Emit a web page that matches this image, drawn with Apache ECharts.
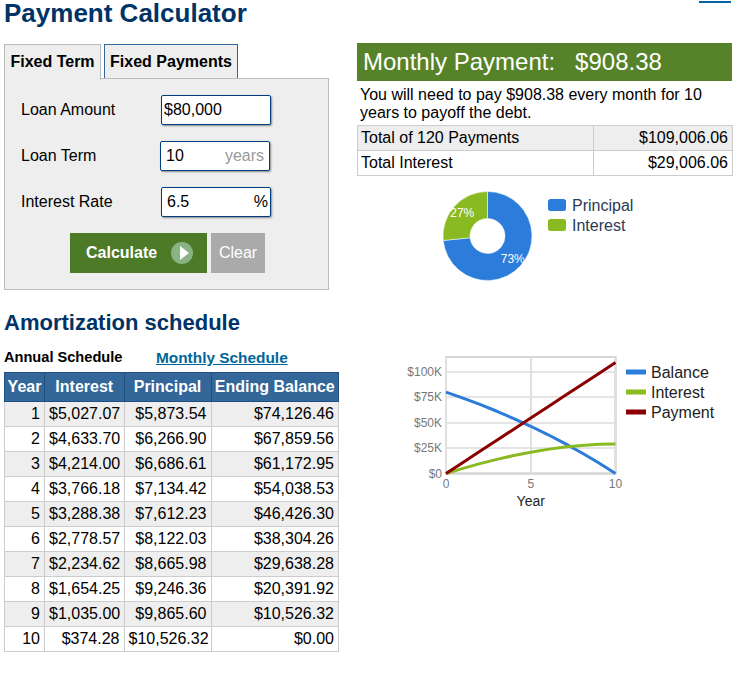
<!DOCTYPE html>
<html lang="en">
<head>
<meta charset="UTF-8">
<title>Payment Calculator</title>
<style>
html, body { margin: 0; padding: 0; background: #fff; }
body { position: relative; width: 739px; height: 678px; overflow: hidden; font-family: "Liberation Sans", Arial, sans-serif; font-size: 16px; color: #000; }
.abs { position: absolute; white-space: nowrap; }
h1, h2 { position: absolute; margin: 0; left: 4px; color: #003366; font-weight: bold; white-space: nowrap; }
.tab { position: absolute; top: 44px; height: 33px; line-height: 34px; text-align: center; font-weight: bold; background: #eee; box-sizing: content-box; }
.inp { position: absolute; width: 108px; height: 28px; background: #fff; border: 1px solid #003f7f; border-radius: 2px; box-shadow: 1px 1px 2px #888; line-height: 28px; box-sizing: content-box; }
.btn { position: absolute; top: 233px; height: 40px; line-height: 40px; font-weight: bold; color: #fff; }
table { position: absolute; border-collapse: collapse; table-layout: fixed; font-size: 16px; }
td, th { border: 1px solid #ccc; padding: 0 4px; text-align: right; box-sizing: border-box; white-space: nowrap; overflow: visible; }
#sched th { background: #336699; color: #fff; border-color: #1f4f80; text-align: center; padding: 0; height: 29px; }
#sched td { height: 25px; }
#sched tr:nth-child(even) td { background: #eee; }
#totals td { height: 25px; }
</style>
</head>
<body>
<div class="abs" style="left:699px;top:1px;width:32px;height:2px;background:#0066a4"></div>

<h1 style="top:-2px;font-size:26px;line-height:30px">Payment Calculator</h1>

<div class="tab" style="left:4px;width:95px;border:1px solid #bbb;border-bottom:none;height:35px;z-index:2">Fixed Term</div>
<div class="tab" style="left:104px;width:132px;border:1px solid #336699;border-bottom:none">Fixed Payments</div>
<div class="abs" style="left:4px;top:78px;width:323px;height:210px;background:#eee;border:1px solid #bbb"></div>

<div class="abs" style="left:21px;top:101px">Loan Amount</div>
<div class="inp" style="left:161px;top:95px"><span style="margin-left:2px">$80,000</span></div>
<div class="abs" style="left:21px;top:147px">Loan Term</div>
<div class="inp" style="left:160px;top:141px"><span style="margin-left:5px">10</span><span style="position:absolute;right:5px;color:#999">years</span></div>
<div class="abs" style="left:21px;top:193px">Interest Rate</div>
<div class="inp" style="left:161px;top:187px"><span style="margin-left:5px">6.5</span><span style="position:absolute;right:2px">%</span></div>

<div class="btn" style="left:70px;width:137px;background:#4c7a26"><span style="margin-left:16px">Calculate</span>
  <svg style="position:absolute;left:101px;top:9px" width="22" height="22"><circle cx="11" cy="11" r="11" fill="#8ab384"/><path d="M9 4 L18 11 L9 18 Z" fill="#fff"/></svg>
</div>
<div class="btn" style="left:211px;width:54px;background:#aaa;text-align:center;font-weight:normal">Clear</div>

<div class="abs" style="left:357px;top:43px;width:375px;height:38px;background:#568329;color:#fff;font-size:24px;line-height:38px"><span style="margin-left:6px;white-space:pre">Monthly Payment:   $908.38</span></div>
<div class="abs" style="left:360px;top:86px;line-height:18px">You will need to pay $908.38 every month for 10<br>years to payoff the debt.</div>
<table id="totals" style="left:357px;top:125px;width:375px"></table>

<div id="pie" class="abs" style="left:430px;top:186px;width:220px;height:100px"></div>

<h2 style="top:310px;font-size:22px;line-height:26px">Amortization schedule</h2>
<div class="abs" style="left:4px;top:349px;font-weight:bold;font-size:14.6px">Annual Schedule</div>
<div class="abs" style="left:156px;top:349px;font-weight:bold;font-size:15.4px;color:#006699;text-decoration:underline">Monthly Schedule</div>
<table id="sched" style="left:4px;top:372px;width:334px"></table>

<div id="line" class="abs" style="left:390px;top:345px;width:340px;height:170px"></div>

<script src="https://cdn.jsdelivr.net/npm/echarts@6/dist/echarts.min.js"></script>
<script>
const totalLabels = ['Total of 120 Payments', 'Total Interest']
const totalValues = ['$109,006.06', '$29,006.06']

const schedHead = ['Year', 'Interest', 'Principal', 'Ending Balance']
const schedYear = [1, 2, 3, 4, 5, 6, 7, 8, 9, 10]
const schedInterest = ['$5,027.07', '$4,633.70', '$4,214.00', '$3,766.18', '$3,288.38', '$2,778.57', '$2,234.62', '$1,654.25', '$1,035.00', '$374.28']
const schedPrincipal = ['$5,873.54', '$6,266.90', '$6,686.61', '$7,134.42', '$7,612.23', '$8,122.03', '$8,665.98', '$9,246.36', '$9,865.60', '$10,526.32']
const schedBalance = ['$74,126.46', '$67,859.56', '$61,172.95', '$54,038.53', '$46,426.30', '$38,304.26', '$29,638.28', '$20,391.92', '$10,526.32', '$0.00']

const pieNames = ['Principal', 'Interest']
const pieValues = [80000, 29006.06]

const lineYears = [0, 1, 2, 3, 4, 5, 6, 7, 8, 9, 10]
const lineBalance = [80000, 74126.46, 67859.56, 61172.95, 54038.53, 46426.30, 38304.26, 29638.28, 20391.92, 10526.32, 0]
const lineInterest = [0, 5027.07, 9660.77, 13874.77, 17640.95, 20929.33, 23707.90, 25942.52, 27596.77, 28631.77, 29006.05]
const linePayment = [0, 10900.61, 21801.21, 32701.82, 43602.42, 54503.03, 65403.63, 76304.24, 87204.84, 98105.45, 109006.06]

const FONT = '"Liberation Sans", Arial, sans-serif'
const BLUE = '#2b7cdb'
const GREEN = '#8aba22'
const RED = '#8b0000'

// html tables
let totalsHtml = '<colgroup><col style="width:236px"><col style="width:139px"></colgroup>'
totalLabels.forEach((it, i) => {
    let bg = i === 0 ? 'background:#eee;' : ''
    totalsHtml += `<tr><td style="${bg}text-align:left;padding-left:3px">${it}</td><td style="${bg}">${totalValues[i]}</td></tr>`
})
document.getElementById('totals').innerHTML = totalsHtml

let schedHtml = '<colgroup><col style="width:40px"><col style="width:79.5px"><col style="width:87px"><col style="width:127.5px"></colgroup>'
schedHtml += '<tr>' + schedHead.map(h => `<th>${h}</th>`).join('') + '</tr>'
schedYear.forEach((y, i) => {
    schedHtml += `<tr><td>${y}</td><td>${schedInterest[i]}</td><td>${schedPrincipal[i]}</td><td>${schedBalance[i]}</td></tr>`
})
document.getElementById('sched').innerHTML = schedHtml

// donut
let pieChart = echarts.init(document.getElementById('pie'), null, { renderer: 'svg' })
pieChart.setOption({
    animation: false,
    textStyle: { fontFamily: FONT },
    color: [BLUE, GREEN],
    legend: {
        left: 111, top: 6, orient: 'vertical',
        icon: 'roundRect', itemWidth: 20, itemHeight: 14, itemGap: 4,
        selectedMode: false,
        textStyle: { fontSize: 16, color: '#2a3a55', fontFamily: FONT }
    },
    series: [{
        type: 'pie',
        center: [57.5, 50],
        radius: [17.5, 44.5],
        startAngle: 90,
        percentPrecision: 0,
        silent: true,
        itemStyle: { borderColor: '#fff', borderWidth: 0.5 },
        label: { position: 'inside', formatter: '{d}%', color: '#fff', fontSize: 12, fontFamily: FONT },
        labelLine: { show: false },
        data: pieNames.map((n, i) => ({ name: n, value: pieValues[i] }))
    }]
})

// line chart
function pairs(vals) {
    return lineYears.map((y, i) => [y, vals[i]])
}
function moneyLabel(v) {
    if (v > 100000) return ''
    return v === 0 ? '$0' : '$' + v / 1000 + 'K'
}
let lineChart = echarts.init(document.getElementById('line'), null, { renderer: 'svg' })
let lineSeries = [['Balance', lineBalance, BLUE], ['Interest', lineInterest, GREEN], ['Payment', linePayment, RED]]
lineChart.setOption({
    animation: false,
    textStyle: { fontFamily: FONT },
    grid: { left: 56, top: 12, width: 169.5, height: 116.5, show: true, borderColor: '#c4c4c4', borderWidth: 2, backgroundColor: 'transparent' },
    legend: {
        left: 231, top: 14, orient: 'vertical',
        icon: 'rect', itemWidth: 20, itemHeight: 5, itemGap: 4,
        selectedMode: false,
        data: lineSeries.map(s => s[0]),
        textStyle: { fontSize: 16, color: '#222', fontFamily: FONT }
    },
    xAxis: {
        type: 'value', min: 0, max: 10, interval: 5,
        name: 'Year', nameLocation: 'middle', nameGap: 20,
        nameTextStyle: { fontSize: 14, color: '#222', fontFamily: FONT },
        axisLine: { show: false }, axisTick: { show: false },
        axisLabel: { color: '#777', fontSize: 12, margin: 4, fontFamily: FONT },
        splitLine: { show: true, lineStyle: { color: '#e0e0e0', width: 2 } }
    },
    yAxis: {
        type: 'value', min: 0, max: 114500, interval: 25000,
        axisLine: { show: false }, axisTick: { show: false },
        axisLabel: { color: '#777', fontSize: 12, margin: 4, formatter: moneyLabel, fontFamily: FONT },
        splitLine: { show: true, lineStyle: { color: '#dcdcdc', width: 1.5 } }
    },
    series: lineSeries.map(s => ({
        name: s[0], type: 'line', showSymbol: false, smooth: false,
        silent: true, clip: false,
        lineStyle: { color: s[2], width: 3 }, itemStyle: { color: s[2] },
        data: pairs(s[1])
    }))
})
</script>
</body>
</html>
